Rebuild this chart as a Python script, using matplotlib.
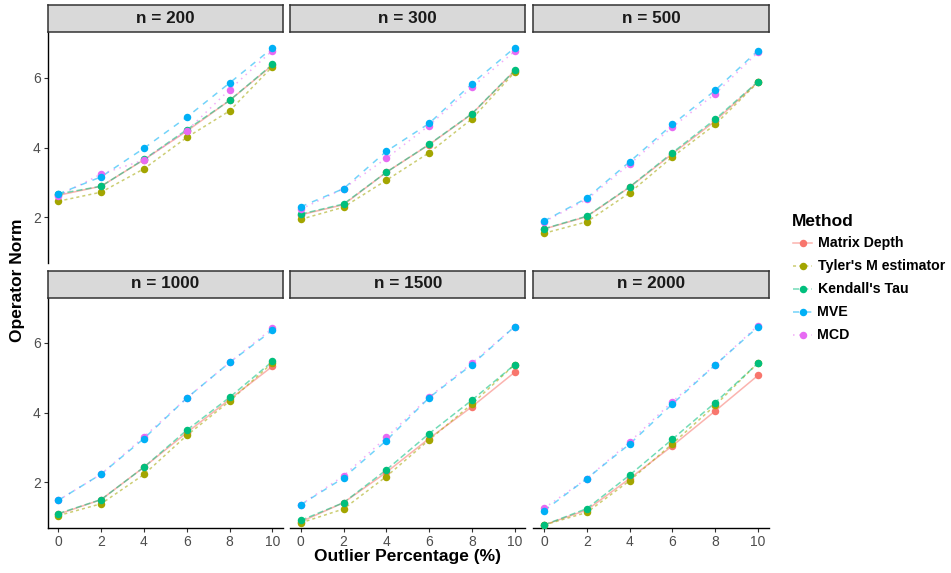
import matplotlib
matplotlib.use("Agg")
import matplotlib.pyplot as plt
from matplotlib.lines import Line2D

plt.rcParams['font.family'] = ['Liberation Sans', 'DejaVu Sans']

outlier_pct = [0, 2, 4, 6, 8, 10]
sample_sizes = [200, 300, 500, 1000, 1500, 2000]
methods = ["Matrix Depth", "Tyler's M estimator", "Kendall's Tau", "MVE", "MCD"]
colors = ["#F8766D", "#A3A500", "#00BF7D", "#00B0F6", "#E76BF3"]

matrix_depth = {
    200: [2.63, 2.89, 3.65, 4.47, 5.35, 6.36],
    300: [2.07, 2.36, 3.29, 4.08, 4.96, 6.20],
    500: [1.66, 2.02, 2.86, 3.82, 4.76, 5.88],
    1000: [1.09, 1.51, 2.44, 3.43, 4.38, 5.33],
    1500: [0.87, 1.42, 2.29, 3.26, 4.17, 5.16],
    2000: [0.78, 1.21, 2.11, 3.05, 4.05, 5.07],
}
tyler = {
    200: [2.46, 2.72, 3.39, 4.29, 5.05, 6.32],
    300: [1.94, 2.29, 3.06, 3.85, 4.82, 6.16],
    500: [1.54, 1.87, 2.70, 3.73, 4.66, 5.87],
    1000: [1.05, 1.39, 2.23, 3.35, 4.33, 5.43],
    1500: [0.84, 1.24, 2.17, 3.22, 4.25, 5.38],
    2000: [0.78, 1.14, 2.05, 3.11, 4.21, 5.43],
}
kendall = {
    200: [2.67, 2.89, 3.66, 4.51, 5.35, 6.38],
    300: [2.09, 2.38, 3.29, 4.09, 4.97, 6.21],
    500: [1.67, 2.03, 2.87, 3.85, 4.81, 5.89],
    1000: [1.11, 1.51, 2.44, 3.50, 4.44, 5.47],
    1500: [0.91, 1.42, 2.36, 3.40, 4.36, 5.38],
    2000: [0.78, 1.25, 2.21, 3.24, 4.29, 5.42],
}
mve = {
    200: [2.67, 3.16, 3.98, 4.87, 5.85, 6.85],
    300: [2.30, 2.82, 3.89, 4.69, 5.83, 6.86],
    500: [1.89, 2.55, 3.59, 4.66, 5.64, 6.78],
    1000: [1.49, 2.24, 3.26, 4.42, 5.44, 6.36],
    1500: [1.36, 2.13, 3.20, 4.43, 5.38, 6.47],
    2000: [1.19, 2.11, 3.10, 4.25, 5.37, 6.46],
}
mcd = {
    200: [2.61, 3.24, 3.64, 4.48, 5.66, 6.78],
    300: [2.23, 2.82, 3.69, 4.63, 5.73, 6.76],
    500: [1.87, 2.51, 3.52, 4.59, 5.54, 6.73],
    1000: [1.49, 2.24, 3.31, 4.42, 5.44, 6.42],
    1500: [1.36, 2.19, 3.29, 4.45, 5.42, 6.47],
    2000: [1.26, 2.11, 3.16, 4.32, 5.37, 6.50],
}
series = [matrix_depth, tyler, kendall, mve, mcd]
x_ticks = [0, 2, 4, 6, 8, 10]
y_ticks = [2, 4, 6]

dash_styles = ['-', (0, (2, 2)), (0, (4, 2)), (0, (4, 4)), (0, (1, 3))]
zorders = [3, 4, 5, 7, 6]

W, H = 951, 573
fig = plt.figure(figsize=(W / 100, H / 100), dpi=100)

def fax(l, t, w, h):
    return fig.add_axes([l / W, 1 - (t + h) / H, w / W, h / H])

lefts = [47.7, 290.0, 533.3]
pw = 235.4
tops = [32.3, 297.5]
ph = 230.2
strip_h = 27.0

for idx, n in enumerate(sample_sizes):
    r, c = divmod(idx, 3)
    ax = fax(lefts[c], tops[r], pw, ph)
    for k, m in enumerate(methods):
        vals = series[k][n]
        ax.plot(outlier_pct, vals, color=colors[k], lw=1.1, alpha=0.55,
                linestyle=dash_styles[k], zorder=zorders[k])
        ax.plot(outlier_pct, vals, color=colors[k], lw=0, marker='o',
                markersize=5.4, markeredgewidth=0, zorder=zorders[k] + 10)
    ax.set_xlim(-0.5, 10.5)
    ax.set_ylim(0.703, 7.303)
    ax.set_facecolor('white')
    for s in ['top', 'right']:
        ax.spines[s].set_visible(False)
    ax.spines['left'].set_visible(c == 0)
    ax.spines['bottom'].set_visible(r == 1)
    for s in ['left', 'bottom']:
        ax.spines[s].set_color('black')
        ax.spines[s].set_linewidth(1.0)
    ax.set_xticks(x_ticks)
    ax.set_yticks(y_ticks)
    ax.tick_params(axis='both', length=3, width=0.8, color='#333333',
                   labelcolor='#4D4D4D', labelsize=10, pad=2)
    if r == 0:
        ax.tick_params(axis='x', bottom=False, labelbottom=False)
    if c != 0:
        ax.tick_params(axis='y', left=False, labelleft=False)
    # strip
    sax = fax(lefts[c], tops[r] - strip_h, pw, strip_h)
    sax.set_facecolor('#D9D9D9')
    sax.set_xticks([]); sax.set_yticks([])
    for s in sax.spines.values():
        s.set_color('#333333'); s.set_linewidth(1.1)
    sax.text(0.5, 0.5, f"n = {n}", ha='center', va='center', fontsize=12.3,
             fontweight='bold', color='#1A1A1A', transform=sax.transAxes)

fig.text(18 / W, 1 - 280 / H, "Operator Norm", rotation=90, ha='center', va='center',
         fontsize=12.5, fontweight='bold', color='black')
fig.text(408 / W, 1 - 557 / H, "Outlier Percentage (%)", ha='center', va='center',
         fontsize=12.5, fontweight='bold', color='black')

# legend
fig.text(792 / W, 1 - 221 / H, "Method", ha='left', va='center', fontsize=12.5,
         fontweight='bold', color='black')
for k, m in enumerate(methods):
    y = 243.3 + 23 * k
    yy = 1 - y / H
    fig.add_artist(Line2D([793 / W, 812 / W], [yy, yy], color=colors[k], lw=1.1,
                          alpha=0.55, linestyle=dash_styles[k], transform=fig.transFigure))
    fig.add_artist(Line2D([803 / W], [yy], color=colors[k], lw=0, marker='o',
                          markersize=5.4, markeredgewidth=0, transform=fig.transFigure))
    fig.text(817.5 / W, yy, m, ha='left', va='center', fontsize=10.2,
             fontweight='bold', color='black')

fig.savefig("out.png", dpi=100, facecolor='white')
